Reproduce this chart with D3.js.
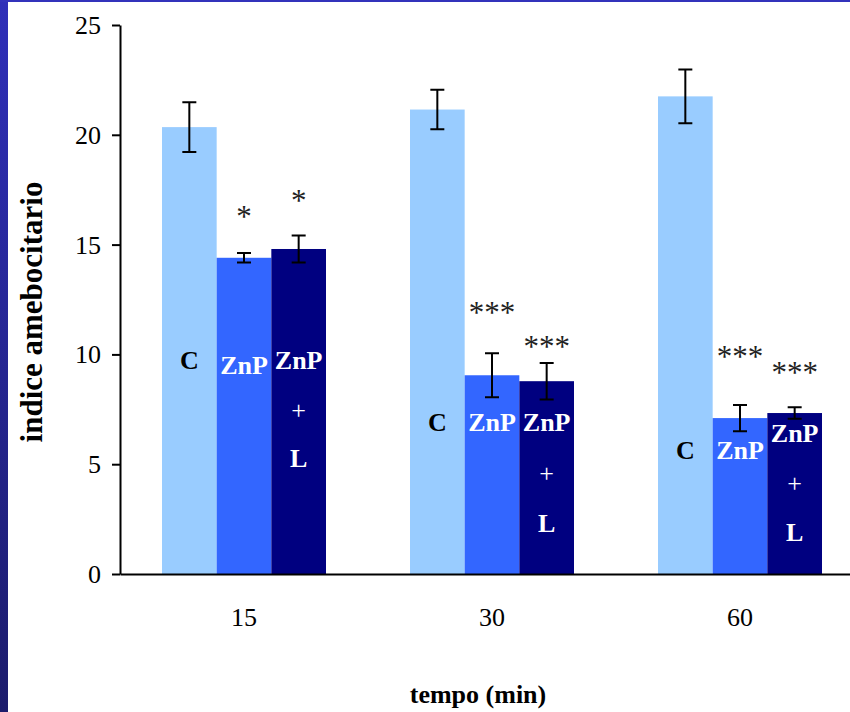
<!DOCTYPE html>
<html><head><meta charset="utf-8">
<script src="https://cdn.jsdelivr.net/npm/d3@7"></script>
<style>body{margin:0;background:#fff} svg{display:block}</style>
</head><body><svg id="c" width="850" height="712"></svg>
<script>
// ---- data ----
const categories = ["15", "30", "60"];
const seriesNames = ["C", "ZnP", "ZnP+L"];
const valuesC    = [20.35, 21.15, 21.75];
const valuesZnP  = [14.4, 9.05, 7.1];
const valuesZnPL = [14.8, 8.78, 7.33];
const errC    = [1.13, 0.9, 1.22];
const errZnP  = [0.22, 1.0, 0.6];
const errZnPL = [0.61, 0.83, 0.26];
const starsZnP  = ["*", "***", "***"];
const starsZnPL = ["*", "***", "***"];
// annotation anchor values (in y units)
const starAtZnP  = [16.45, 12.07, 10.05];
const starAtZnPL = [17.18, 10.53, 9.32];
const labelAtC    = [9.74, 6.88, 5.65];
const labelAtZnP  = [9.52, 6.88, 5.65];
const labelAtZnPL = [[9.74, 7.47, 5.28], [6.88, 4.6, 2.32], [6.38, 4.14, 1.91]];
const yTicks = [0, 5, 10, 15, 20, 25];
const yTitle = "indice amebocitario";
const xTitle = "tempo (min)";

const colors = {"C": "#99ccff", "ZnP": "#3366ff", "ZnP+L": "#000080"};
const serif = "'Liberation Serif','Times New Roman',serif";

const svg = d3.select("#c");
const W = 850, H = 712;
svg.append("rect").attr("width", W).attr("height", H).attr("fill", "#ffffff");

// decorative frame (slide border)
const defs = svg.append("defs");
const lg = defs.append("linearGradient").attr("id", "side").attr("x1", 0).attr("y1", 0).attr("x2", 0).attr("y2", 1);
lg.append("stop").attr("offset", "0%").attr("stop-color", "#2f2fb9");
lg.append("stop").attr("offset", "100%").attr("stop-color", "#1c1c6c");
svg.append("rect").attr("x", 0).attr("y", 0).attr("width", 8).attr("height", H).attr("fill", "url(#side)");
svg.append("rect").attr("x", 0).attr("y", 0).attr("width", W).attr("height", 2).attr("fill", "#3232bb");

// ---- scales ----
const x0 = d3.scaleBand().domain(categories).range([120, 864]).paddingInner(0).paddingOuter(0);
const x1 = d3.scaleBand().domain(seriesNames).range([42, 206]).padding(0);
const y = d3.scaleLinear().domain([0, 25]).range([574, 25]);

const rows = categories.map((c, i) => ({
  cat: c,
  bars: [
    {s: "C",     v: valuesC[i],    e: errC[i],    star: "",           starAt: null,          labels: [["C", labelAtC[i], true]], dark: false},
    {s: "ZnP",   v: valuesZnP[i],  e: errZnP[i],  star: starsZnP[i],  starAt: starAtZnP[i],  labels: [["ZnP", labelAtZnP[i], true]], dark: true},
    {s: "ZnP+L", v: valuesZnPL[i], e: errZnPL[i], star: starsZnPL[i], starAt: starAtZnPL[i], labels: [["ZnP", labelAtZnPL[i][0], true], ["+", labelAtZnPL[i][1], false], ["L", labelAtZnPL[i][2], true]], dark: true}
  ]
}));

const g = svg.append("g");
const groups = g.selectAll("g.grp").data(rows).join("g")
  .attr("class", "grp")
  .attr("transform", d => `translate(${x0(d.cat)},0)`);

const barG = groups.selectAll("g.bar").data(d => d.bars).join("g").attr("class", "bar");

barG.append("rect")
  .attr("x", d => x1(d.s))
  .attr("width", x1.bandwidth())
  .attr("y", d => y(d.v))
  .attr("height", d => y(0) - y(d.v))
  .attr("fill", d => colors[d.s]);

// error bars
const cap = 7;
barG.each(function(d) {
  const sel = d3.select(this);
  const cx = x1(d.s) + x1.bandwidth() / 2;
  const top = y(d.v + d.e), bot = y(d.v - d.e);
  const path = `M${cx},${top}V${bot}M${cx - cap},${top}H${cx + cap}M${cx - cap},${bot}H${cx + cap}`;
  sel.append("path").attr("d", path).attr("stroke", "#000").attr("stroke-width", 2).attr("fill", "none");
  if (d.star) {
    sel.append("text")
      .attr("x", cx).attr("y", y(d.starAt) + 14)
      .attr("text-anchor", "middle")
      .attr("font-family", serif).attr("font-size", 31)
      .attr("fill", "#222")
      .text(d.star);
  }
  d.labels.forEach(([t, at, bold]) => {
    sel.append("text")
      .attr("x", cx).attr("y", y(at))
      .attr("dy", "0.33em")
      .attr("text-anchor", "middle")
      .attr("font-family", serif).attr("font-size", 26)
      .attr("font-weight", bold ? "bold" : "normal")
      .attr("fill", d.dark ? "#ffffff" : "#000000")
      .text(t);
  });
});

// ---- axes ----
const yAxis = d3.axisLeft(y).tickValues(yTicks).tickSize(8).tickPadding(11).tickSizeOuter(0);
const ya = svg.append("g").attr("transform", "translate(120,0)").call(yAxis);
ya.select(".domain").attr("stroke", "#000").attr("stroke-width", 2);
ya.selectAll(".tick line").attr("stroke", "#000").attr("stroke-width", 2);
ya.selectAll(".tick text").attr("font-family", serif).attr("font-size", 26).attr("fill", "#000").attr("dy", "0.33em");

const xAxis = d3.axisBottom(x0).tickSize(0).tickPadding(0).tickSizeOuter(0);
const xa = svg.append("g").attr("transform", "translate(0,574)").call(xAxis);
xa.select(".domain").attr("stroke", "#000").attr("stroke-width", 2);
xa.selectAll(".tick text").attr("font-family", serif).attr("font-size", 26).attr("fill", "#000")
  .attr("y", 43).attr("dy", "0.33em");

// titles
svg.append("text")
  .attr("transform", "translate(42,312) rotate(-90)")
  .attr("text-anchor", "middle")
  .attr("font-family", serif).attr("font-size", 31).attr("font-weight", "bold")
  .text(yTitle);
svg.append("text")
  .attr("x", 478).attr("y", 703)
  .attr("text-anchor", "middle")
  .attr("font-family", serif).attr("font-size", 26).attr("font-weight", "bold")
  .text(xTitle);
</script>
</body></html>
